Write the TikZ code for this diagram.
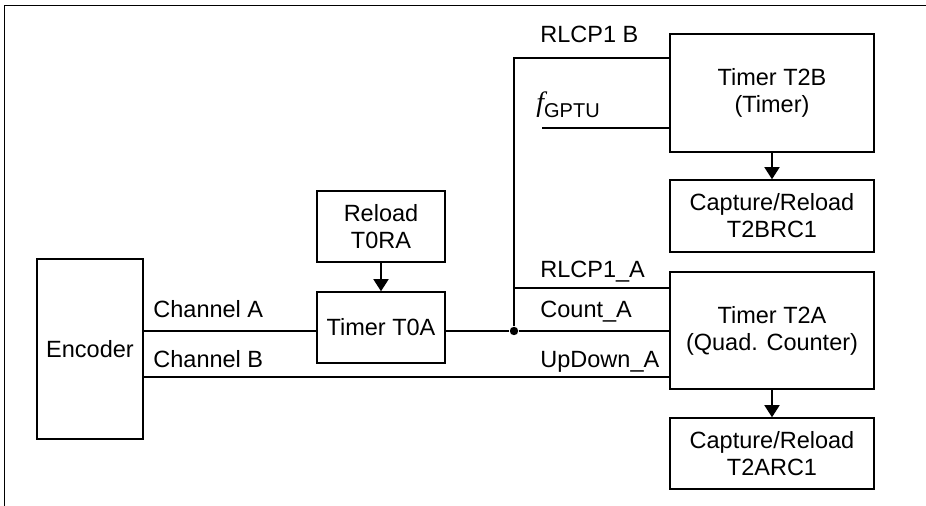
\documentclass[tikz,border=0pt]{standalone}
\usepackage{fontspec}
\setmainfont{Liberation Sans}
\newfontfamily\serifit{Liberation Serif}
\usetikzlibrary{arrows.meta}

\begin{document}
\begin{tikzpicture}[x=0.5pt,y=-0.5pt,font=\fontsize{11.75}{13.5}\selectfont,
  blk/.style={draw,line width=0.75pt,inner sep=0pt,align=center},
  wire/.style={line width=0.75pt},
  feed/.style={line width=0.75pt,-{Triangle[width=7.5pt,length=6pt]}},
  lbl/.style={anchor=base west,inner sep=0pt}]
  \useasboundingbox (0,0) rectangle (926,506);
  \draw[line width=0.5pt] (926,6) -- (4,6) -- (4,506);
  % blocks
  \node[blk,minimum width=53pt,minimum height=90pt] (enc) at (90,349) {Encoder};
  \node[blk,minimum width=64pt,minimum height=35.5pt] (rld) at (381,226.5) {Reload\\T0RA};
  \node[blk,minimum width=64pt,minimum height=35.5pt] (t0a) at (381,327.5) {Timer T0A};
  \node[blk,minimum width=102pt,minimum height=59pt] (t2b) at (772,93) {Timer T2B\\(Timer)};
  \node[blk,minimum width=102pt,minimum height=36pt] (t2brc) at (772,216) {Capture/Reload\\T2BRC1};
  \node[blk,minimum width=102pt,minimum height=58.5pt] (t2a) at (772,330.5) {Timer T2A\\(Quad. Counter)};
  \node[blk,minimum width=102pt,minimum height=35.5pt] (t2arc) at (772,453.5) {Capture/Reload\\T2ARC1};
  \node[circle,fill,inner sep=0pt,minimum size=4.2pt] (jn) at (514,331) {};
  % rows of the wires
  \coordinate (ya) at (0,331);
  \coordinate (yb) at (0,377);
  \coordinate (yr) at (0,288);
  \coordinate (yrb) at (0,58);
  \coordinate (fsrc) at (542,128);
  % wires
  \draw[wire] (enc.east |- ya) -- (t0a.west |- ya);
  \draw[wire] (t0a.east |- ya) -- (jn) -- (t2a.west |- ya);
  \draw[wire] (enc.east |- yb) -- (t2a.west |- yb);
  \draw[wire] (jn) -- (jn |- yrb) -- (t2b.west |- yrb);
  \draw[wire] (jn |- yr) -- (t2a.west |- yr);
  \draw[wire] (fsrc) -- (t2b.west |- fsrc);
  \draw[feed] (rld.south) -- (t0a.north);
  \draw[feed] (t2b.south) -- (t2brc.north);
  \draw[feed] (t2a.south) -- (t2arc.north);
  % labels
  \node[lbl] (lcha) at (153,318) {Channel A};
  \node[lbl] (lchb) at (153,368) {Channel B};
  \node[lbl] (lrb) at (540,43) {RLCP1 B};
  \node[lbl] (lf) at (536,112) {{\serifit\itshape\fontsize{14}{14}\selectfont f}\raisebox{-3pt}{\fontsize{10}{10}\selectfont GPTU}};
  \node[lbl] (lra) at (540,278) {RLCP1\_A};
  \node[lbl] (lcnt) at (540,318) {Count\_A};
  \node[lbl] (lud) at (540,368) {UpDown\_A};
\end{tikzpicture}
\end{document}
